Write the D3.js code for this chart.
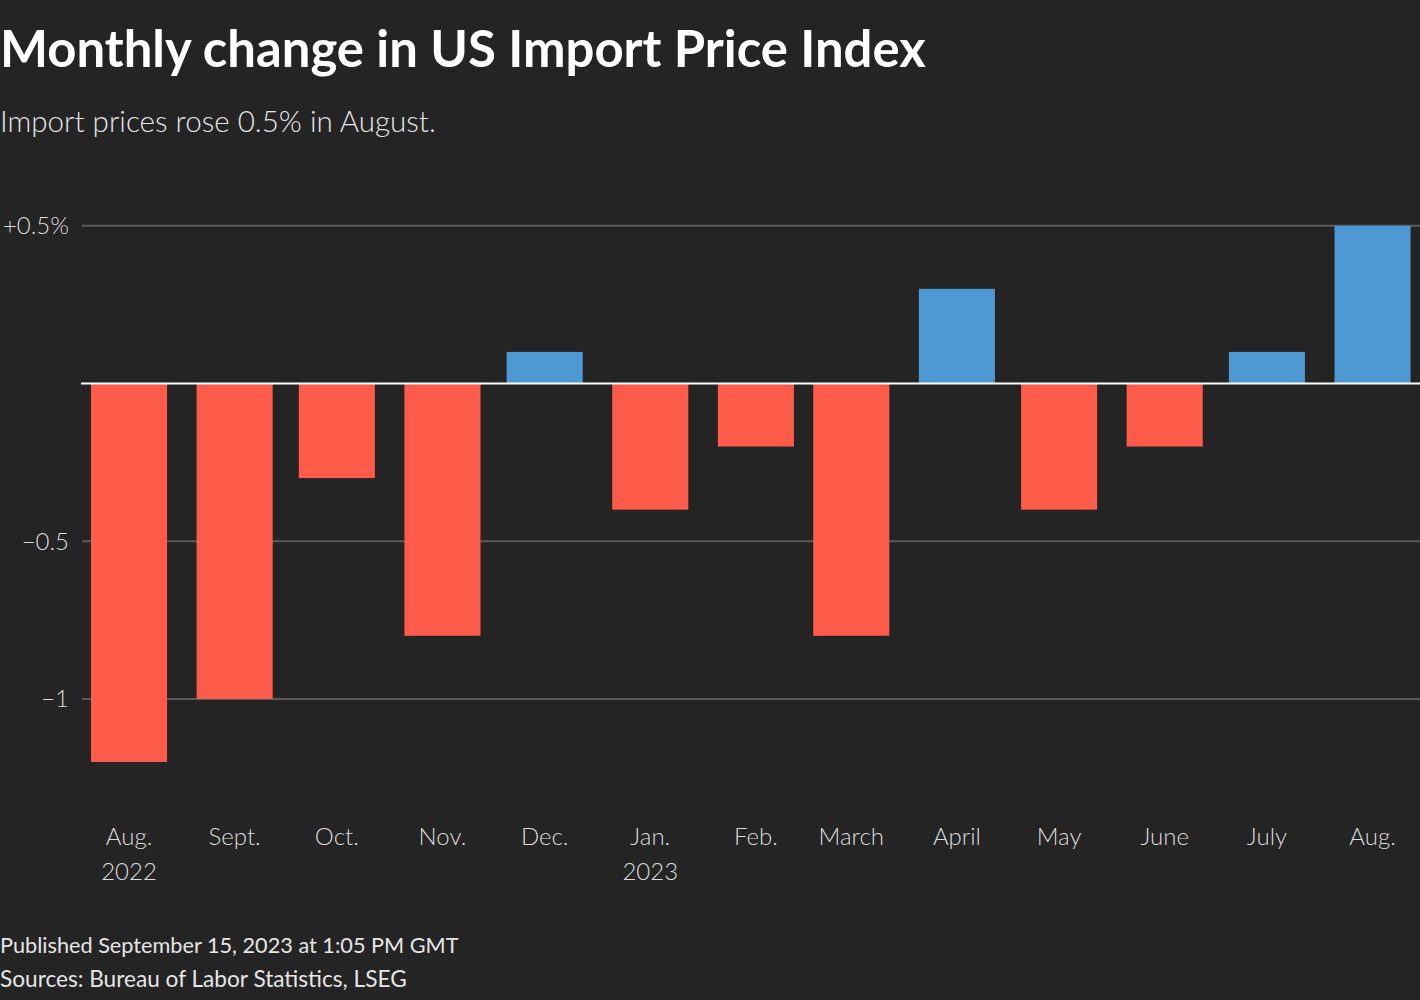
<!DOCTYPE html>
<html>
<head>
<meta charset="utf-8">
<script src="https://cdn.jsdelivr.net/npm/d3@7"></script>
<style>
  html, body { margin: 0; padding: 0; background: #242424; }
  svg { display: block; }
  text { font-family: Lato, "Source Sans Pro", "Open Sans", sans-serif; }
</style>
</head>
<body>
<svg id="chart" width="1420" height="1000"></svg>
<script>
const dates = ["2022-08-01", "2022-09-01", "2022-10-01", "2022-11-01", "2022-12-01", "2023-01-01",
               "2023-02-01", "2023-03-01", "2023-04-01", "2023-05-01", "2023-06-01", "2023-07-01", "2023-08-01"];
const months = ["Aug.", "Sept.", "Oct.", "Nov.", "Dec.", "Jan.", "Feb.", "March", "April", "May", "June", "July", "Aug."];
const years = ["2022", "", "", "", "", "2023", "", "", "", "", "", "", ""];
const values = [-1.2, -1.0, -0.3, -0.8, 0.1, -0.4, -0.2, -0.8, 0.3, -0.4, -0.2, 0.1, 0.5];
const yTicks = [0.5, -0.5, -1];
const yTickLabels = ["+0.5%", "\u22120.5", "\u22121"];

const title = "Monthly change in US Import Price Index";
const subtitle = "Import prices rose 0.5% in August.";
const footer = ["Published September 15, 2023 at 1:05 PM GMT", "Sources: Bureau of Labor Statistics, LSEG"];

const W = 1420, H = 1000;
const svg = d3.select("#chart");
svg.append("rect").attr("width", W).attr("height", H).attr("fill", "#242424");

const parse = d3.utcParse("%Y-%m-%d");
const dts = dates.map(parse);
const ids = d3.range(values.length);
const x = d3.scaleUtc().domain([dts[0], dts[dts.length - 1]]).range([91, 1334.5]);
const step = (x.range()[1] - x.range()[0]) / (dts.length - 1);
const bw = step * 0.734;
const y = d3.scaleLinear().domain([-1.2, 0.5]).range([762, 225.75]);

function fit(sel, target) {
  const node = sel.node();
  const fs = parseFloat(sel.attr("font-size"));
  const w = node.getComputedTextLength();
  if (w > 0) sel.attr("font-size", fs * target / w);
}

// Title
const t = svg.append("text").attr("x", 0).attr("y", 67).attr("fill", "#ffffff")
  .attr("font-weight", 700).attr("font-size", 46).text(title);
fit(t, 926);

const st = svg.append("text").attr("x", 0).attr("y", 132).attr("fill", "#e6e6e6")
  .attr("font-weight", 300).attr("font-size", 28).text(subtitle);
fit(st, 436);

// Gridlines
const grid = svg.append("g");
grid.selectAll("line").data(yTicks).join("line")
  .attr("x1", 82).attr("x2", W)
  .attr("y1", d => y(d)).attr("y2", d => y(d))
  .attr("stroke", "#5a5a5a").attr("stroke-width", 2);

// Y axis labels
svg.append("g").selectAll("text").data(yTicks).join("text")
  .attr("x", 69).attr("y", d => y(d)).attr("dy", "0.35em")
  .attr("text-anchor", "end").attr("fill", "#dcdcdc")
  .attr("font-weight", 300).attr("font-size", 24)
  .text((d, i) => yTickLabels[i]);

// Bars
svg.append("g").selectAll("rect").data(ids).join("rect")
  .attr("x", i => x(dts[i]))
  .attr("width", bw)
  .attr("y", i => Math.min(y(0), y(values[i])))
  .attr("height", i => Math.abs(y(values[i]) - y(0)))
  .attr("fill", i => values[i] >= 0 ? "#4e98d4" : "#ff5b4b");

// Zero line
svg.append("line").attr("x1", 81).attr("x2", W)
  .attr("y1", y(0)).attr("y2", y(0))
  .attr("stroke", "#ffffff").attr("stroke-width", 2);

// X labels
const cx = i => x(dts[i]) + bw / 2;
const xl = svg.append("g").selectAll("text").data(ids).join("text")
  .attr("x", cx)
  .attr("text-anchor", "middle").attr("fill", "#dcdcdc")
  .attr("font-weight", 300).attr("font-size", 24);
xl.append("tspan").attr("x", cx).attr("y", 845).text(i => months[i]);
xl.append("tspan").attr("x", cx).attr("y", 880).text(i => years[i]);

// Footer
const f1 = svg.append("text").attr("x", 0).attr("y", 953).attr("fill", "#e6e6e6")
  .attr("font-size", 22).text(footer[0]);
fit(f1, 459);
const f2 = svg.append("text").attr("x", 0).attr("y", 987).attr("fill", "#e6e6e6")
  .attr("font-size", 22).text(footer[1]);
fit(f2, 407);
</script>
</body>
</html>
